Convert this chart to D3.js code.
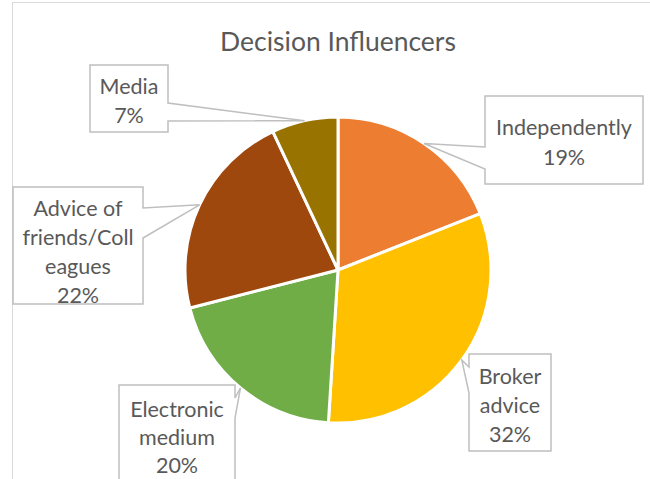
<!DOCTYPE html>
<html>
<head>
<meta charset="utf-8">
<script src="https://cdn.jsdelivr.net/npm/d3@7"></script>
<style>
  html, body { margin: 0; padding: 0; background: #fff; }
  svg { display: block; }
</style>
</head>
<body>
<script>
// Share of respondents by main decision influencer (percent)
const categories = ["Independently", "Broker advice", "Electronic medium", "Advice of friends/Colleagues", "Media"];
const values = [19, 32, 20, 22, 7];
// Text shown in each callout (label lines, wrapped as in the chart)
const labelLines = [
  ["Independently"],
  ["Broker", "advice"],
  ["Electronic", "medium"],
  ["Advice of", "friends/Coll", "eagues"],
  ["Media"]
];
const colors = ["#ED7D31", "#FFC000", "#70AD47", "#9E480E", "#997300"];

const W = 650, H = 479;
const cx = 338, cy = 270, R = 153;

// Callout boxes: rectangle, side holding the pointer and pointer base span
const callouts = [
  { x0: 485, y0: 96,  x1: 643, y1: 184, side: "left",  a: 147, b: 169, lineH: 30, ty: 127 },
  { x0: 469, y0: 354, x1: 551, y1: 451, side: "left",  a: 367, b: 393, lineH: 29, ty: 376 },
  { x0: 119, y0: 385, x1: 235, y1: 500, side: "right", a: 398, b: 418, lineH: 28, ty: 409 },
  { x0: 13,  y0: 187, x1: 143, y1: 304, side: "right", a: 208, b: 238, lineH: 29.3, ty: 208 },
  { x0: 90,  y0: 65,  x1: 168, y1: 132, side: "right", a: 103, b: 121, lineH: 29, ty: 86 }
];

const svg = d3.select("body").append("svg").attr("width", W).attr("height", H);

// chart frame
svg.append("rect")
  .attr("x", 12.5).attr("y", 2.5).attr("width", 800).attr("height", 600)
  .attr("fill", "#fff").attr("stroke", "#d9d9d9").attr("stroke-width", 1);

svg.append("text")
  .attr("x", cx).attr("y", 51)
  .attr("text-anchor", "middle")
  .attr("font-family", "Lato, 'Open Sans', sans-serif")
  .attr("font-size", 26.5)
  .attr("fill", "#595959")
  .text("Decision Influencers");

const pie = d3.pie().sort(null).value(d => d)(values);
const arc = d3.arc().innerRadius(0).outerRadius(R);
const edge = d3.arc().innerRadius(R).outerRadius(R);

const g = svg.append("g").attr("transform", `translate(${cx},${cy})`);
g.selectAll("path.slice")
  .data(pie)
  .join("path")
  .attr("class", "slice")
  .attr("d", arc)
  .attr("fill", (d, i) => colors[i])
  .attr("stroke", "#fff")
  .attr("stroke-width", 3)
  .attr("stroke-linejoin", "round");

// callouts pointing at the outer edge of each slice
function calloutPath(c, tip) {
  const [tx, ty] = tip;
  const p = [[c.x0, c.y0], [c.x1, c.y0]];
  if (c.side === "right") p.push([c.x1, c.a], [tx, ty], [c.x1, c.b]);
  p.push([c.x1, c.y1], [c.x0, c.y1]);
  if (c.side === "left") p.push([c.x0, c.b], [tx, ty], [c.x0, c.a]);
  return "M" + p.map(q => q.join(",")).join("L") + "Z";
}

pie.forEach((d, i) => {
  const c = callouts[i];
  const m = edge.centroid(d);
  const tip = [cx + m[0], cy + m[1]];
  svg.append("path")
    .attr("d", calloutPath(c, tip))
    .attr("fill", "#fff")
    .attr("stroke", "#bfbfbf")
    .attr("stroke-width", 1.5)
    .attr("stroke-linejoin", "miter");
  const lines = labelLines[i].concat([d3.format(".0f")(d.value) + "%"]);
  const t = svg.append("text")
    .attr("text-anchor", "middle")
    .attr("font-family", "Lato, 'Open Sans', sans-serif")
    .attr("font-size", 21.5)
    .attr("fill", "#595959");
  lines.forEach((s, k) => {
    t.append("tspan")
      .attr("x", (c.x0 + c.x1) / 2)
      .attr("y", c.ty + k * c.lineH)
      .attr("dy", "0.35em")
      .text(s);
  });
});
</script>
</body>
</html>
